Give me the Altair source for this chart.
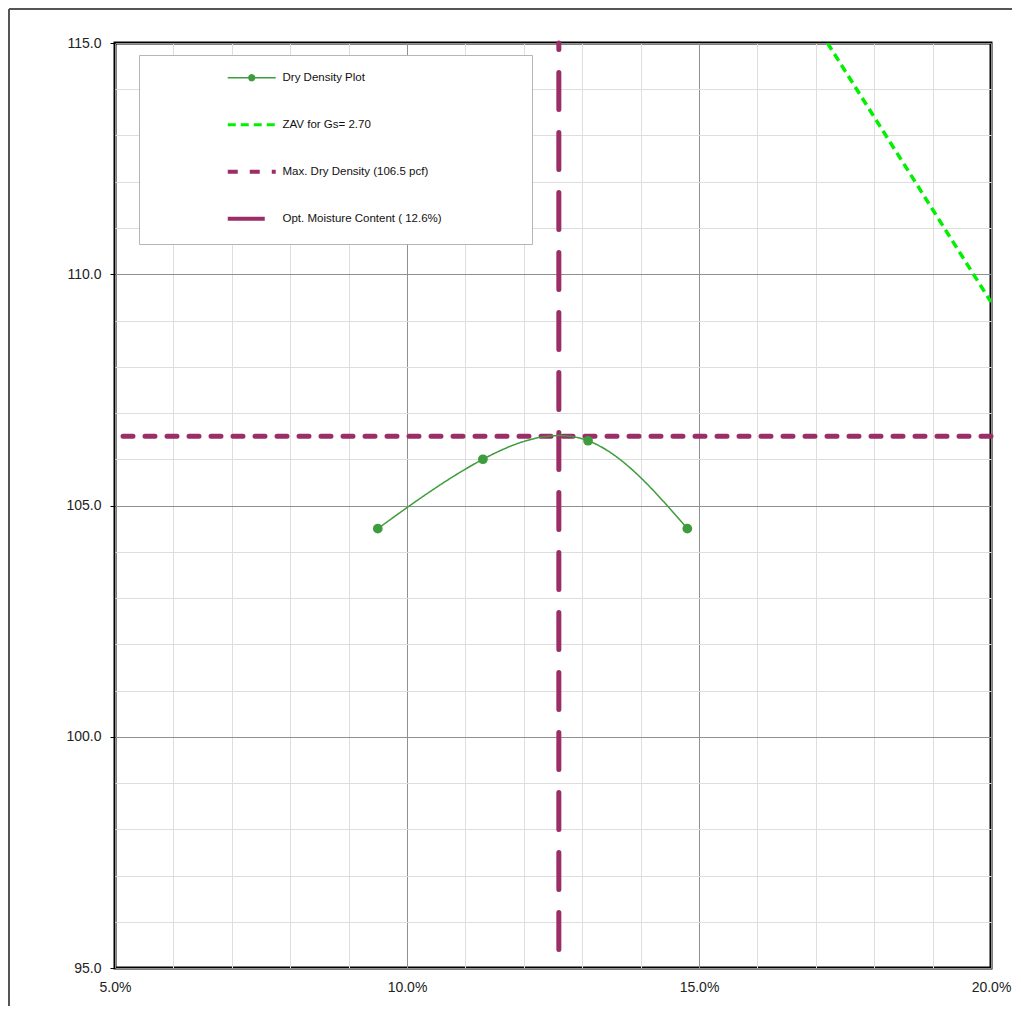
import altair as alt
import pandas as pd

# ---- data ----
moisture = [9.5, 11.3, 13.1, 14.8]            # moisture content, %
dry_density = [104.5, 106.0, 106.4, 104.5]    # pcf
zav_moisture = [17.2, 18.0, 19.0, 20.0]       # %
zav_density = [115.0, 113.4, 111.4, 109.4]    # pcf
max_dry_density = 106.5
opt_moisture = 12.6

series_names = [
    "Dry Density Plot",
    "ZAV for Gs= 2.70",
    "Max. Dry Density (106.5 pcf)",
    "Opt. Moisture Content ( 12.6%)",
]
series_colors = ["#3d9c3d", "#00f000", "#9b2d67", "#9b2d67"]
series_dashes = [[1, 0], [8, 5], [10, 12], [37, 23]]

x_ticks = list(range(5, 21))
y_ticks = list(range(95, 116))

FONT = "Liberation Sans"

# ---- tables ----
df_dd = pd.DataFrame({"w": moisture, "d": dry_density, "series": series_names[0]})
df_zav = pd.DataFrame({"w": zav_moisture, "d": zav_density, "series": series_names[1]})
df_max = pd.DataFrame({"d": [max_dry_density], "series": [series_names[2]]})
df_opt = pd.DataFrame({"w": [opt_moisture], "series": [series_names[3]]})
df_frame = pd.DataFrame({"k": [0]})

x_scale = alt.Scale(domain=[5, 20], nice=False, zero=False)
y_scale = alt.Scale(domain=[95, 115], nice=False, zero=False)

x_axis = alt.Axis(
    values=x_ticks,
    labelExpr="datum.value % 5 === 0 ? format(datum.value, '.1f') + '%' : ''",
    title=None,
    domain=False,
    ticks=False,
    labelPadding=12,
    labelFlush=False,
    labelOverlap=False,
    labelFont=FONT,
    labelFontSize=14,
    labelColor="#222222",
    grid=True,
    gridColor={"condition": {"test": "datum.value % 5 === 0", "value": "#909090"}, "value": "#dedede"},
    gridWidth=1,
)
y_axis = alt.Axis(
    values=y_ticks,
    labelExpr="datum.value % 5 === 0 ? format(datum.value, '.1f') : ''",
    title=None,
    domain=False,
    ticks=True,
    tickSize=5,
    tickColor={"condition": {"test": "datum.value % 5 === 0", "value": "#000000"}, "value": "transparent"},
    labelPadding=9,
    labelFlush=False,
    labelOverlap=False,
    labelFont=FONT,
    labelFontSize=14,
    labelColor="#222222",
    grid=True,
    gridColor={"condition": {"test": "datum.value % 5 === 0", "value": "#909090"}, "value": "#dedede"},
    gridWidth=1,
)

dot_path = "M-1,0L1,0M-0.12,0A0.12,0.12,0,1,0,0.12,0A0.12,0.12,0,1,0,-0.12,0"
first = series_names[0]
legend = alt.Legend(
    orient="none",
    legendX=24,
    legendY=12,
    title=" ",
    titleOrient="right",
    titlePadding=73,
    symbolType={"expr": f"datum.value === '{first}' ? '{dot_path}' : 'stroke'"},
    symbolSize=2304,
    symbolOffset=90,
    symbolFillColor={"expr": f"datum.value === '{first}' ? '{series_colors[0]}' : 'transparent'"},
    symbolStrokeWidth={"expr": f"datum.value === '{first}' ? 1.5 : (datum.value === '{series_names[1]}' ? 3 : 4)"},
    labelOffset=25,
    labelFont=FONT,
    labelFontSize=11.5,
    labelColor="#111111",
    gridAlign="all",
    rowPadding=30,
    padding=17,
    strokeColor="#b5b5b5",
    fillColor="white",
)

color = alt.Color("series:N", scale=alt.Scale(domain=series_names, range=series_colors), legend=legend)
dash = alt.StrokeDash("series:N", scale=alt.Scale(domain=series_names, range=series_dashes), legend=legend)

X = alt.X("w:Q", scale=x_scale, axis=x_axis)
Y = alt.Y("d:Q", scale=y_scale, axis=y_axis)

dd_line = alt.Chart(df_dd).mark_line(interpolate="natural", strokeWidth=1.5).encode(
    x=X, y=Y, color=color, strokeDash=dash
)
dd_pts = alt.Chart(df_dd).mark_point(filled=True, size=95, opacity=1).encode(
    x=X, y=Y, color=alt.Color("series:N", scale=alt.Scale(domain=series_names, range=series_colors), legend=None)
)
zav_line = alt.Chart(df_zav).mark_line(interpolate="monotone", strokeWidth=3.5, clip=True).encode(
    x=X, y=Y, color=color, strokeDash=dash
)
max_rule = alt.Chart(df_max).mark_rule(strokeWidth=5, strokeCap="round").encode(
    y=Y, color=color, strokeDash=dash
)
opt_rule = alt.Chart(df_opt).mark_rule(strokeWidth=5, strokeCap="round", strokeDashOffset=30.5).encode(
    x=X, color=color, strokeDash=dash
)

# outer page frame (decoration)
frame_top = alt.Chart(df_frame).mark_rule(color="#555555", strokeWidth=2).encode(
    x=alt.value(-106), x2=alt.value(897), y=alt.value(-34)
)
frame_left = alt.Chart(df_frame).mark_rule(color="#555555", strokeWidth=2).encode(
    x=alt.value(-106), y=alt.value(-34), y2=alt.value(963)
)

chart = (
    alt.layer(frame_top, frame_left, zav_line, max_rule, opt_rule, dd_line, dd_pts)
    .properties(width=876, height=925, padding=0, background="white")
    .configure_view(stroke="#000000", strokeWidth=3)
)

chart.save("out.html", embed_options={"renderer": "svg", "actions": False})
